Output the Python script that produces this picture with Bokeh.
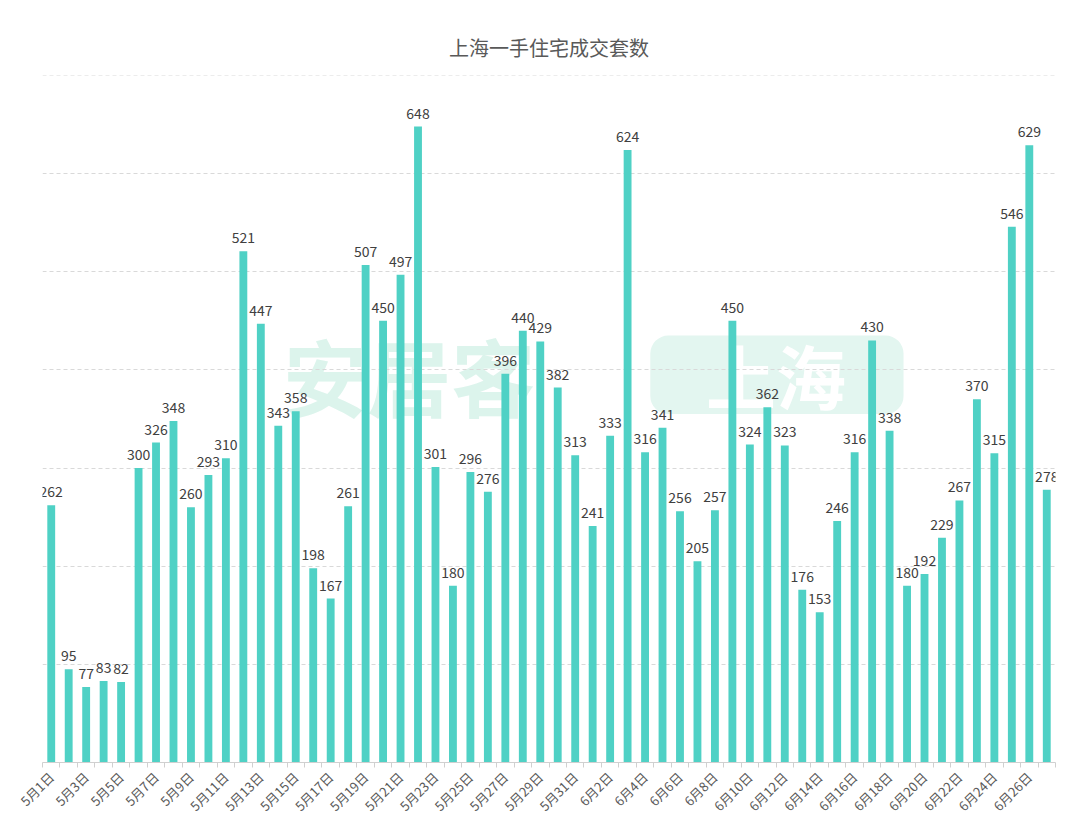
import math
from bokeh.plotting import figure
from bokeh.models import ColumnDataSource, FixedTicker, Range1d, Span
from bokeh.core.properties import value
from bokeh.embed import file_html
from bokeh.resources import INLINE

title = "上海一手住宅成交套数"
dates = [f"5月{d}日" for d in range(1, 32)] + [f"6月{d}日" for d in range(1, 28)]
counts = [262, 95, 77, 83, 82, 300, 326, 348, 260, 293, 310, 521, 447, 343, 358,
          198, 167, 261, 507, 450, 497, 648, 301, 180, 296, 276, 396, 440, 429,
          382, 313, 241, 333, 624, 316, 341, 256, 205, 257, 450, 324, 362, 323,
          176, 153, 246, 316, 430, 338, 180, 192, 229, 267, 370, 315, 546, 629, 278]
grid_values = [100, 200, 300, 400, 500, 600, 700]

FONT = "Noto Sans CJK SC"
BAR = "#4FD1C5"

xs = list(range(len(dates)))
src = ColumnDataSource(dict(x=xs, y=counts, lbl=[str(c) for c in counts]))

p = figure(width=1064, height=824, output_backend="svg", toolbar_location=None,
           x_range=Range1d(-0.5, len(dates) - 0.5), y_range=Range1d(0, 700),
           min_border_left=42, min_border_right=9, min_border_bottom=62,
           min_border_top=75)

p.title.text = title
p.title.align = "center"
p.title.text_font = FONT
p.title.text_font_size = "20px"
p.title.text_font_style = "normal"
p.title.text_color = "#595959"
p.title.standoff = 28

p.outline_line_color = None
p.background_fill_color = "white"
p.border_fill_color = "white"

# watermark
p.text(x=[20.5], y=[395], text=["安居客"], text_font=value(FONT), text_font_size="84px",
       text_font_style="bold", text_color="#dcf4ec", text_align="center",
       text_baseline="middle", level="underlay")
p.quad(left=[34.3], right=[48.8], bottom=[355], top=[435], fill_color="#e3f6f0",
       line_color=None, level="underlay", border_radius=18)
p.text(x=[41.5], y=[395], text=["上海"], text_font=value(FONT), text_font_size="70px",
       text_font_style="bold", text_color="#ffffff", text_align="center",
       text_baseline="middle", level="underlay")

p.vbar(x="x", top="y", width=0.45, source=src, fill_color=BAR, line_color=None)
p.text(x="x", y="y", text="lbl", source=src, text_font=value(FONT),
       text_font_size="14px", text_color="#404040", text_align="center",
       text_baseline="bottom", y_offset=-8)

p.yaxis.visible = False
p.ygrid.ticker = FixedTicker(ticks=grid_values)
p.ygrid.grid_line_color = "#d9d9d9"
p.ygrid.grid_line_dash = "4 3"
p.xgrid.visible = False
p.add_layout(Span(location=grid_values[-1], dimension="width", line_color="#d9d9d9",
                  line_dash="4 3", line_width=1))

ax = p.xaxis[0]
ax.ticker = FixedTicker(ticks=list(range(0, len(dates), 2)),
                        minor_ticks=[i - 0.5 for i in range(len(dates) + 1)])
ax.major_label_overrides = {i: dates[i] for i in range(0, len(dates), 2)}
ax.major_label_orientation = math.pi / 4
ax.major_label_text_font = FONT
ax.major_label_text_font_size = "13px"
ax.major_label_text_color = "#595959"
ax.major_tick_line_color = None
ax.minor_tick_line_color = "#d0d0d0"
ax.minor_tick_out = 5
ax.minor_tick_in = 0
ax.axis_line_color = "#d0d0d0"
ax.major_label_standoff = 6

open("out.html", "w").write(file_html(p, INLINE))
